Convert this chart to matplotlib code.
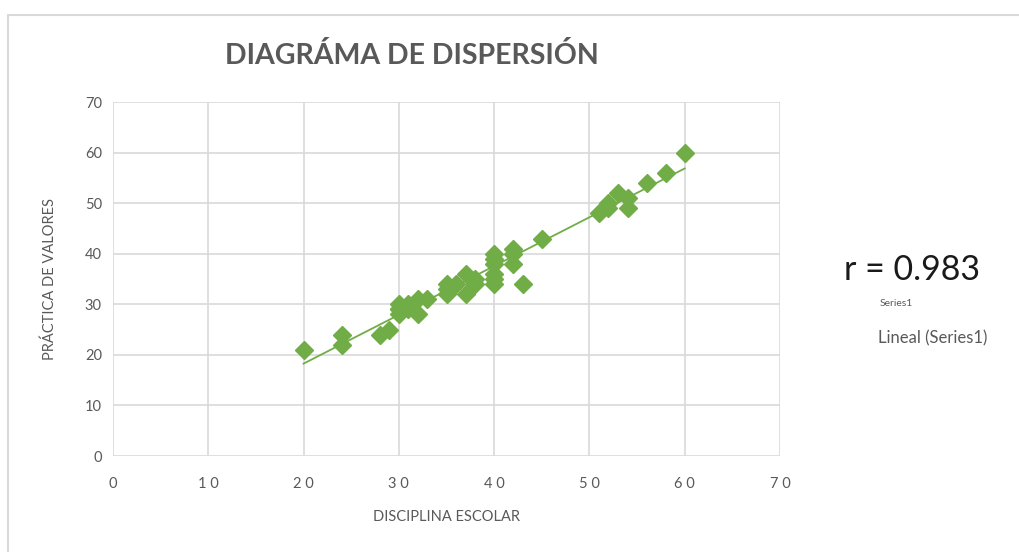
import numpy as np
import matplotlib.pyplot as plt
from matplotlib.patches import Rectangle

# Datos
disciplina = [20, 24, 24, 28, 29, 30, 30, 30, 30, 31, 31, 32, 32, 33, 35, 35, 35,
              36, 37, 37, 38, 38, 40, 40, 40, 40, 40, 40, 42, 42, 42, 43, 45,
              51, 52, 52, 53, 54, 54, 56, 58, 60]
valores = [21, 24, 22, 24, 25, 30, 29, 28, 29, 29, 30, 31, 28, 31, 34, 33, 32,
           34, 36, 32, 35, 34, 40, 39, 38, 36, 35, 34, 41, 40, 38, 34, 43,
           48, 50, 49, 52, 51, 49, 54, 56, 60]
ticks = [0, 10, 20, 30, 40, 50, 60, 70]
r_text = "r = 0.983"

green = '#70AD47'
gray = '#595959'
plt.rcParams['font.family'] = ['Lato', 'DejaVu Sans']

fig = plt.figure(figsize=(10.19, 5.52), dpi=100)
ax = fig.add_axes([113/1019, 1 - 456/552, (780 - 113)/1019, (456 - 102)/552])

# marco exterior del gráfico
fig.patches.append(Rectangle((8/1019, -0.1), 1.2, 1 - 15/552 + 0.1,
                             transform=fig.transFigure, fill=False,
                             edgecolor='#d9d9d9', lw=1.5))

x = np.array(disciplina)
y = np.array(valores)
m, b = np.polyfit(x, y, 1)
xs = np.array([x.min(), x.max()])
ax.plot(xs, m * xs + b, color=green, lw=1.3, zorder=2)
ax.plot(x, y, 'D', color=green, ms=9, mec=green, zorder=3)

ax.set_xlim(0, 70)
ax.set_ylim(0, 70)
ax.set_xticks(ticks)
ax.set_yticks(ticks)
ax.set_xticklabels([' '.join(str(t)) for t in ticks])
ax.grid(True, color='#d9d9d9', lw=1.2, zorder=0)
ax.set_axisbelow(True)
for s in ax.spines.values():
    s.set_visible(False)
ax.tick_params(length=0, colors=gray, labelsize=10.5)
ax.tick_params(axis='x', pad=15)
ax.tick_params(axis='y', pad=8)

ax.set_xlabel('DISCIPLINA ESCOLAR', color=gray, fontsize=10.5, labelpad=14)
ax.set_ylabel('PRÁCTICA DE VALORES', color=gray, fontsize=10.5, labelpad=20)

fig.text(412/1019, 1 - 55/552, 'DIAGRÁMA DE DISPERSIÓN', ha='center', va='center',
         fontsize=20.5, fontweight='bold', color=gray)

fig.text(912/1019, 1 - 270/552, r_text, ha='center', va='center',
         fontsize=24.5, color='#1a1a1a')
fig.text(880/1019, 1 - 303/552, 'Series1', ha='left', va='center',
         fontsize=7.5, color=gray)
fig.text(878/1019, 1 - 338/552, 'Lineal (Series1)', ha='left', va='center',
         fontsize=12, color=gray)

plt.savefig('out.png', dpi=100)
